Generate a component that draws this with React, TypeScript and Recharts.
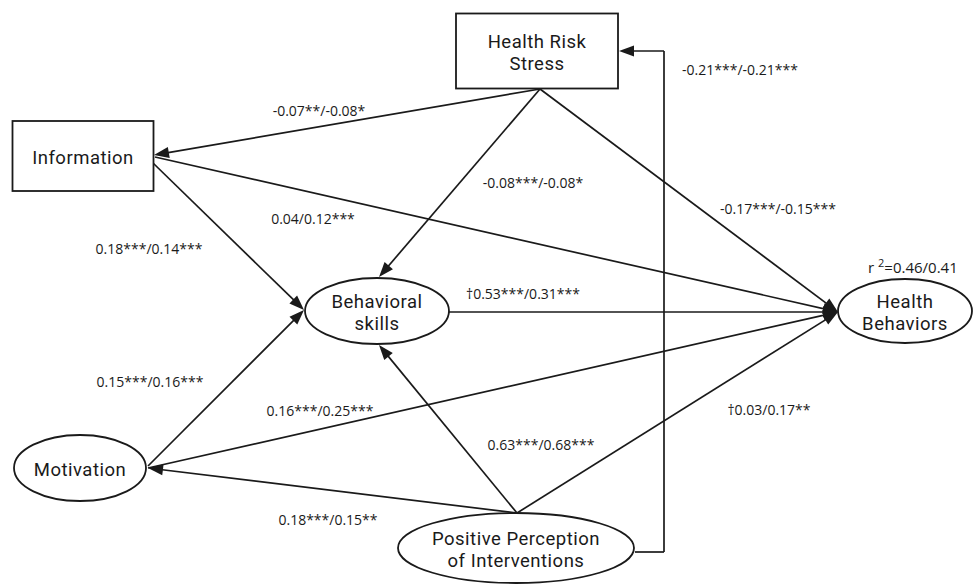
import React from 'react';
import { ScatterChart, Scatter, XAxis, YAxis, ReferenceLine } from 'recharts';

const W = 973;
const H = 585;
const FONT = '"Open Sans", "Noto Sans", sans-serif';
const NODE_FONT = 'Roboto, "Open Sans", sans-serif';
const INK = '#1a1a1a';

// observed constructs (rectangles) and latent ones (ovals), centre points in picture units
const boxes = [
  { name: 'Information', lines: ['Information'], x: 83, y: 156 },
  { name: 'Health Risk Stress', lines: ['Health Risk', 'Stress'], x: 537, y: 51 },
];

const ovals = [
  { name: 'Behavioral skills', lines: ['Behavioral', 'skills'], x: 377, y: 311 },
  { name: 'Motivation', lines: ['Motivation'], x: 80, y: 468 },
  { name: 'Health Behaviors', lines: ['Health', 'Behaviors'], x: 905, y: 311 },
  { name: 'Positive Perception of Interventions', lines: ['Positive Perception', 'of Interventions'], x: 516, y: 548 },
];

// path coefficients (model 1 / model 2) with the anchor points of each arrow
const paths = [
  { from: 'Health Risk Stress', to: 'Information', coef: '-0.07**/-0.08*', pts: [[540, 89], [154, 155]], lx: 319, ly: 110 },
  { from: 'Health Risk Stress', to: 'Behavioral skills', coef: '-0.08***/-0.08*', pts: [[540, 89], [379, 277]], lx: 533, ly: 182 },
  { from: 'Health Risk Stress', to: 'Health Behaviors', coef: '-0.17***/-0.15***', pts: [[540, 89], [838, 312]], lx: 778, ly: 208 },
  { from: 'Positive Perception of Interventions', to: 'Health Risk Stress', coef: '-0.21***/-0.21***', pts: [[635, 552], [664, 552], [664, 51], [619, 51]], lx: 740, ly: 69 },
  { from: 'Information', to: 'Behavioral skills', coef: '0.18***/0.14***', pts: [[153, 163], [304, 310]], lx: 149, ly: 248 },
  { from: 'Information', to: 'Health Behaviors', coef: '0.04/0.12***', pts: [[155, 157], [838, 312]], lx: 313, ly: 218 },
  { from: 'Motivation', to: 'Behavioral skills', coef: '0.15***/0.16***', pts: [[148, 466], [304, 310]], lx: 150, ly: 381 },
  { from: 'Motivation', to: 'Health Behaviors', coef: '0.16***/0.25***', pts: [[148, 468], [838, 312]], lx: 320, ly: 410 },
  { from: 'Positive Perception of Interventions', to: 'Motivation', coef: '0.18***/0.15**', pts: [[517, 513], [148, 468]], lx: 328, ly: 519 },
  { from: 'Positive Perception of Interventions', to: 'Behavioral skills', coef: '0.63***/0.68***', pts: [[517, 513], [379, 345]], lx: 541, ly: 444 },
  { from: 'Positive Perception of Interventions', to: 'Health Behaviors', coef: '\u20200.03/0.17**', pts: [[517, 513], [838, 312]], lx: 769, ly: 409 },
  { from: 'Behavioral skills', to: 'Health Behaviors', coef: '\u20200.53***/0.31***', pts: [[449, 312], [838, 312]], lx: 523, ly: 293 },
];

const fitStats = [{ label: 'r', sup: '2', value: '=0.46/0.41', x: 868, y: 268 }];

const boxSize: Record<string, [number, number]> = {
  Information: [141, 70],
  'Health Risk Stress': [162, 75],
};
const ovalSize: Record<string, [number, number]> = {
  'Behavioral skills': [72, 33],
  Motivation: [66, 33],
  'Health Behaviors': [67, 32],
  'Positive Perception of Interventions': [118, 35],
};

const labels = paths.map((p) => ({ x: p.lx, y: p.ly, text: p.coef }));

function NodeText({ cx, cy, lines }: { cx: number; cy: number; lines: string[] }) {
  const gap = 22;
  const top = cy + 2 - ((lines.length - 1) * gap) / 2;
  return (
    <g>
      {lines.map((l, i) => (
        <text
          key={i}
          x={cx}
          y={top + i * gap}
          textAnchor="middle"
          dominantBaseline="central"
          fontFamily={NODE_FONT}
          fontSize={18.5}
          letterSpacing={0.5}
          fill={INK}
        >
          {l}
        </text>
      ))}
    </g>
  );
}

function renderEdge(p: any, head: boolean) {
  const { x1, y1, x2, y2 } = p;
  const dx = x2 - x1;
  const dy = y2 - y1;
  const len = Math.hypot(dx, dy) || 1;
  const ux = dx / len;
  const uy = dy / len;
  const hl = 15;
  const hw = 5.5;
  const bx = x2 - ux * hl;
  const by = y2 - uy * hl;
  return (
    <g>
      <line x1={x1} y1={y1} x2={head ? x2 - ux * 4 : x2} y2={head ? y2 - uy * 4 : y2} stroke={INK} strokeWidth={1.7} />
      {head && (
        <polygon
          points={`${x2},${y2} ${bx - uy * hw},${by + ux * hw} ${bx + uy * hw},${by - ux * hw}`}
          fill={INK}
        />
      )}
    </g>
  );
}

export default function App() {
  return (
    <div style={{ position: 'absolute', left: 0, top: 0, width: W, height: H, background: '#fff' }}>
      <ScatterChart width={W} height={H} margin={{ top: 0, right: 0, bottom: 0, left: 0 }}>
        <XAxis type="number" dataKey="x" domain={[0, W]} hide />
        <YAxis type="number" dataKey="y" domain={[0, H]} reversed hide />
        {paths.map((p, i) =>
          p.pts.slice(1).map((pt, j) => (
            <ReferenceLine
              key={`e${i}-${j}`}
              segment={[
                { x: p.pts[j][0], y: p.pts[j][1] },
                { x: pt[0], y: pt[1] },
              ]}
              ifOverflow="visible"
              shape={(lp: any) => renderEdge(lp, j === p.pts.length - 2)}
            />
          ))
        )}
        <Scatter
          data={boxes}
          isAnimationActive={false}
          shape={(s: any) => {
            const [w, h] = boxSize[s.payload.name];
            return (
              <g>
                <rect x={s.cx - w / 2} y={s.cy - h / 2} width={w} height={h} fill="#fff" stroke={INK} strokeWidth={1.8} />
                <NodeText cx={s.cx} cy={s.cy} lines={s.payload.lines} />
              </g>
            );
          }}
        />
        <Scatter
          data={ovals}
          isAnimationActive={false}
          shape={(s: any) => {
            const [rx, ry] = ovalSize[s.payload.name];
            return (
              <g>
                <ellipse cx={s.cx} cy={s.cy} rx={rx} ry={ry} fill="#fff" stroke={INK} strokeWidth={1.8} />
                <NodeText cx={s.cx} cy={s.cy} lines={s.payload.lines} />
              </g>
            );
          }}
        />
        <Scatter
          data={labels}
          isAnimationActive={false}
          shape={(s: any) => (
            <text x={s.cx} y={s.cy} textAnchor="middle" dominantBaseline="central" fontFamily={FONT} fontSize={14} fill={INK}>
              {s.payload.text}
            </text>
          )}
        />
        <Scatter
          data={fitStats}
          isAnimationActive={false}
          shape={(s: any) => (
            <text x={s.cx} y={s.cy + 5} fontFamily={FONT} fontSize={15} fill={INK}>
              <tspan>{s.payload.label} </tspan>
              <tspan dy={-6} fontSize={11}>{s.payload.sup}</tspan>
              <tspan dy={6}>{s.payload.value}</tspan>
            </text>
          )}
        />
      </ScatterChart>
    </div>
  );
}
